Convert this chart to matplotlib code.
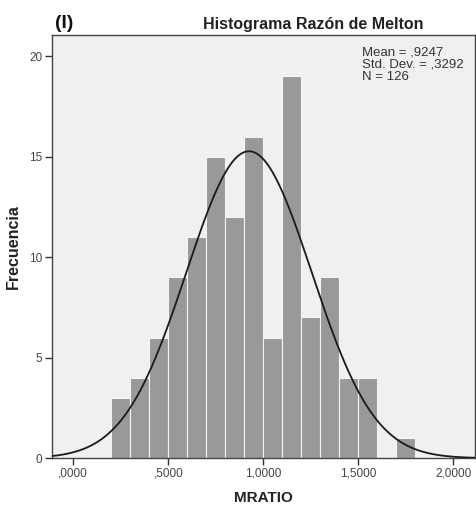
import numpy as np
import matplotlib
matplotlib.use('Agg')
import matplotlib.pyplot as plt

plt.rcParams['font.family'] = ['Liberation Sans', 'DejaVu Sans']

# Histogram data (bin edges 0.2 .. 1.8, width 0.1)
bin_left = [0.2, 0.3, 0.4, 0.5, 0.6, 0.7, 0.8, 0.9, 1.0, 1.1, 1.2, 1.3, 1.4, 1.5, 1.6, 1.7]
counts = [3, 4, 6, 9, 11, 15, 12, 16, 6, 19, 7, 9, 4, 4, 0, 1]
bin_width = 0.1
mean = 0.9247
std = 0.3292
n = 126

xticks = [0.0, 0.5, 1.0, 1.5, 2.0]
xticklabels = [",0000", ",5000", "1,0000", "1,5000", "2,0000"]
yticks = [0, 5, 10, 15, 20]

fig = plt.figure(figsize=(4.77, 5.08), dpi=100, facecolor='white')
ax = fig.add_axes([0.109, 0.098, 0.887, 0.833])
ax.set_facecolor('#f0f0f0')

ax.bar(bin_left, counts, width=bin_width, align='edge', color='#999999',
       edgecolor='#f4f4f4', linewidth=0.8, zorder=2)

xs = np.linspace(-0.12, 2.12, 400)
ys = n * bin_width / (std * np.sqrt(2 * np.pi)) * np.exp(-0.5 * ((xs - mean) / std) ** 2)
ax.plot(xs, ys, color='#1a1a1a', linewidth=1.3, zorder=3)

ax.set_xlim(-0.112, 2.114)
ax.set_ylim(0, 21.05)
ax.set_xticks(xticks)
ax.set_xticklabels(xticklabels)
ax.set_yticks(yticks)
ax.tick_params(axis='both', colors='#333333', labelsize=8.5, length=5, width=1,
               direction='out', labelcolor='#444444', pad=2)
for spine in ax.spines.values():
    spine.set_color('#444444')
    spine.set_linewidth(1)

ax.set_xlabel("MRATIO", fontsize=11, fontweight='bold', color='#222222', labelpad=8)
ax.set_ylabel("Frecuencia", fontsize=11.5, fontweight='bold', color='#222222', labelpad=6)

fig.text(0.656, 0.937, "Histograma Razón de Melton", ha='center', va='bottom',
         fontsize=11.5, fontweight='bold', color='#222222')
fig.text(0.115, 0.937, "(I)", ha='left', va='bottom', fontsize=14,
         fontweight='bold', color='#111111')

ax.text(0.733, 0.974, "Mean = ,9247\nStd. Dev. = ,3292\nN = 126",
        transform=ax.transAxes, ha='left', va='top', fontsize=9.5,
        color='#333333', linespacing=1.05)

fig.savefig("out.png", dpi=100, facecolor='white')
